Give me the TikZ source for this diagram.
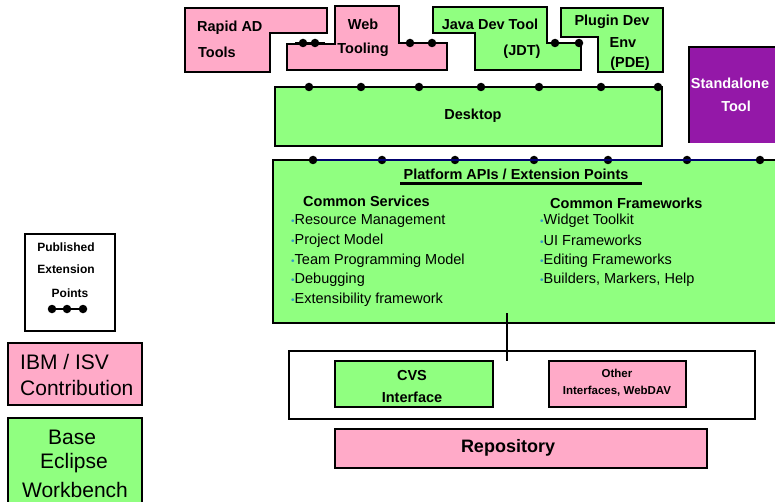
\documentclass[tikz,border=0pt]{standalone}
\usepackage{fontspec}
\setmainfont{Liberation Sans}
\definecolor{ibmpink}{RGB}{255,170,200}
\definecolor{basegreen}{RGB}{144,255,128}
\definecolor{toolpurple}{RGB}{148,24,168}
\definecolor{bulletblue}{RGB}{51,153,204}
\definecolor{apinavy}{RGB}{0,0,110}
\newcommand{\bfsz}{\fontsize{14.5}{17}\selectfont\bfseries}
\newcommand{\itm}[1]{{\color{bulletblue}\fontsize{10}{10}\selectfont\textbullet}#1}

\begin{document}
\begin{tikzpicture}[x=1pt,y=-1pt,
    outline/.style={draw=black,line width=2pt,line join=miter},
    pinkbox/.style={outline,fill=ibmpink},
    greenbox/.style={outline,fill=basegreen},
    lbl/.style={font=\bfsz,inner sep=0pt},
    txt/.style={font=\fontsize{14.5}{17}\selectfont,inner sep=0pt,anchor=west},
    xpoint/.style={circle,fill=black,inner sep=0pt,minimum size=8.5pt}]

    \useasboundingbox (0,0) rectangle (775,502);
    \clip (0,0) rectangle (775,502);

    % Tools on top
    \draw[pinkbox] (185,8) -- (327,8) -- (327,33) -- (270,33) -- (270,72) -- (185,72) -- cycle;
    \draw[pinkbox] (287,44) -- (335,44) -- (335,6) -- (399,6) -- (399,43) -- (447,43) -- (447,70) -- (287,70) -- cycle;
    \draw[greenbox] (433,7) -- (547,7) -- (547,43) -- (581,43) -- (581,70) -- (475,70) -- (475,33) -- (433,33) -- cycle;
    \draw[greenbox] (561,8) -- (663,8) -- (663,72) -- (598,72) -- (598,37) -- (561,37) -- cycle;
    \fill[toolpurple] (689,47) rectangle (790,143);
    \draw[outline] (689,143) -- (689,47) -- (790,47);

    \node[lbl,anchor=west] (rad1) at (197,28) {Rapid AD};
    \node[lbl,anchor=west] (rad2) at (198,52) {Tools};
    \node[lbl] (web1) at (363,24) {Web};
    \node[lbl] (web2) at (363,50) {Tooling};
    \node[lbl] (jdt1) at (490,24) {Java Dev Tool};
    \node[lbl] (jdt2) at (522,52) {(JDT)};
    \node[lbl] (pde1) at (612,22) {Plugin Dev};
    \node[lbl] (pde2) at (623,43) {Env};
    \node[lbl] (pde3) at (630,64) {(PDE)};
    \node[lbl,white] (std1) at (730,83) {Standalone};
    \node[lbl,white] (std2) at (736,106) {Tool};

    % Extension points between tools
    \node[xpoint] (wt1) at (303,43) {};
    \node[xpoint] (wt2) at (315,43) {};
    \node[xpoint] (wt3) at (410,43) {};
    \node[xpoint] (wt4) at (432,43) {};
    \node[xpoint] (jd1) at (555,43) {};
    \node[xpoint] (jd2) at (579,43) {};
    \coordinate (wt0) at (295,43);
    \coordinate (wt5) at (325,43);
    \draw[line width=2.8pt] (wt0) -- (wt5);
    \draw[line width=2.8pt] (wt3) -- (wt4);
    \draw[line width=2.8pt] (jd1) -- (jd2);

    % Desktop
    \draw[greenbox] (275,87) rectangle (662,146);
    \node[lbl] (desk) at (473,116) {Desktop};
    \foreach \x [count=\i] in {309,361,419,481,539,601,658}
        \node[xpoint] (d\i) at (\x,87) {};
    \draw[line width=2.4pt] (d1) -- (d7);

    % Platform APIs
    \draw[greenbox] (273,160) rectangle (790,323);
    \foreach \x [count=\i] in {313,382,455,534,608,687,760}
        \node[xpoint] (p\i) at (\x,160) {};
    \draw[apinavy,line width=2.2pt] (p1) -- (p7);
    \node[lbl] (api) at (516,174) {Platform APIs / Extension Points};
    \draw[line width=3pt] (400,184) -- (642,184);

    \node[lbl,anchor=west] (cs) at (303,201) {Common Services};
    \foreach \t [count=\i] in {Resource Management,Project Model,Team Programming Model,Debugging,Extensibility framework}
        \node[txt] (cs\i) at (291,201+19.8*\i) {\itm{\t}};
    \node[lbl,anchor=west] (cf) at (550,203) {Common Frameworks};
    \foreach \t [count=\i] in {Widget Toolkit,UI Frameworks,Editing Frameworks,{Builders, Markers, Help}}
        \node[txt] (cf\i) at (540,201+19.8*\i) {\itm{\t}};

    % Team interfaces
    \draw[outline,fill=white] (289,351) rectangle (755,419);
    \draw[greenbox] (335,361) rectangle (493,407);
    \draw[pinkbox] (549,361) rectangle (686,407);
    \node[lbl] (cvs1) at (412,376) {CVS};
    \node[lbl] (cvs2) at (412,397) {Interface};
    \node[lbl,font=\fontsize{11.5}{14}\selectfont\bfseries] (oth1) at (617,373) {Other};
    \node[lbl,font=\fontsize{11.5}{14}\selectfont\bfseries] (oth2) at (617,391) {Interfaces, WebDAV};
    \coordinate (vtop) at (507,313);
    \coordinate (vbot) at (507,361);
    \draw[line width=2pt] (vtop) -- (vbot);

    % Repository
    \draw[pinkbox] (335,429) rectangle (707,468);
    \node[lbl,font=\fontsize{18}{21}\selectfont\bfseries] (repo) at (508,448) {Repository};

    % Legend
    \draw[outline,fill=white] (25,234) rectangle (115,331);
    \node[lbl,font=\fontsize{12}{14}\selectfont\bfseries] (leg1) at (66,247) {Published};
    \node[lbl,font=\fontsize{12}{14}\selectfont\bfseries] (leg2) at (66,269) {Extension};
    \node[lbl,font=\fontsize{12}{14}\selectfont\bfseries] (leg3) at (70,293) {Points};
    \node[xpoint] (l1) at (52,309) {};
    \node[xpoint] (l2) at (67,309) {};
    \node[xpoint] (l3) at (83,309) {};
    \draw[line width=2.8pt] (l1) -- (l3);

    \draw[pinkbox] (8,343) rectangle (142,405);
    \node[txt,font=\fontsize{21}{24}\selectfont] (ibm1) at (20,362) {IBM / ISV};
    \node[txt,font=\fontsize{21}{24}\selectfont] (ibm2) at (20,388) {Contribution};
    \draw[greenbox] (8,418) rectangle (142,520);
    \node[inner sep=0pt,font=\fontsize{21}{24}\selectfont] (base1) at (72,437) {Base};
    \node[inner sep=0pt,font=\fontsize{21}{24}\selectfont] (base2) at (74,463) {Eclipse};
    \node[inner sep=0pt,font=\fontsize{21}{24}\selectfont] (base3) at (75,490) {Workbench};

\end{tikzpicture}
\end{document}
